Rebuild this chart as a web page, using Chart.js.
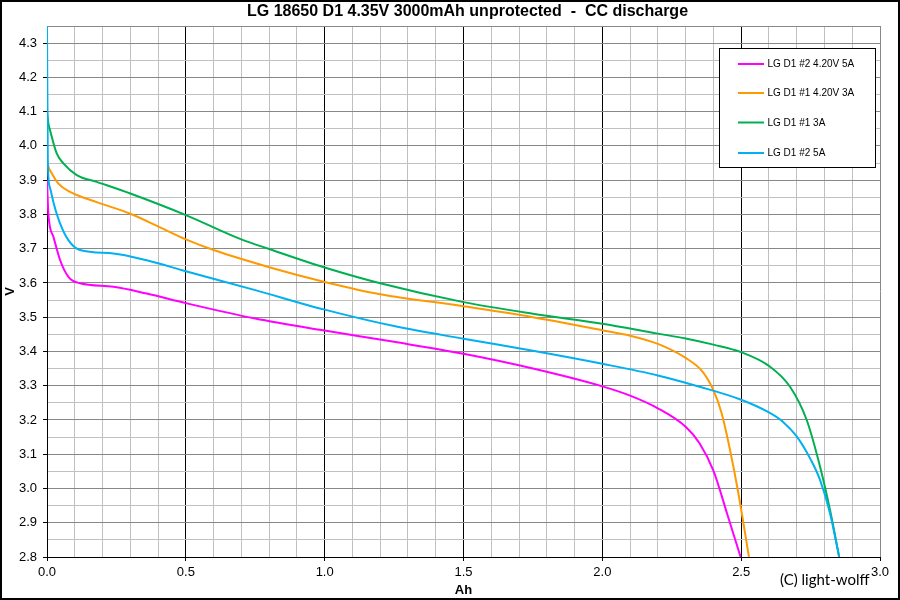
<!DOCTYPE html>
<html>
<head>
<meta charset="utf-8">
<script src="https://cdn.jsdelivr.net/npm/chart.js@4.4.0/dist/chart.umd.min.js"></script>
<style>
  html, body { margin: 0; padding: 0; background: #fff; }
  #wrap { width: 900px; height: 600px; position: relative; }
</style>
</head>
<body>
<div id="wrap"><canvas id="c" width="900" height="600"></canvas></div>
<script>
const chartTitle = "LG 18650 D1 4.35V 3000mAh unprotected  -  CC discharge";
const xAxisTitle = "Ah";
const yAxisTitle = "V";
const creditText = "(C) light-wolff";
const seriesLabels = ["LG D1 #2 4.20V 5A", "LG D1 #1 4.20V 3A", "LG D1 #1 3A", "LG D1 #2 5A"];
const seriesColors = ["#ff00ff", "#ff9900", "#00b050", "#00b0f0"];

const magentaAh = [0, 0.005, 0.023, 0.047, 0.077, 0.119, 0.239, 0.359, 0.5, 0.75, 1.0, 1.25, 1.5, 1.75, 2.0, 2.1, 2.2, 2.3, 2.35, 2.4, 2.45, 2.498];
const magentaV  = [3.90, 3.80, 3.735, 3.667, 3.618, 3.599, 3.589, 3.569, 3.541, 3.496, 3.461, 3.428, 3.393, 3.350, 3.298, 3.271, 3.234, 3.180, 3.132, 3.052, 2.925, 2.80];

const orangeAh = [0, 0.005, 0.017, 0.041, 0.083, 0.179, 0.3, 0.4, 0.5, 0.6, 0.8, 1.0, 1.2, 1.5, 1.75, 2.0, 2.1, 2.2, 2.3, 2.36, 2.40, 2.43, 2.46, 2.49, 2.528];
const orangeV  = [3.96, 3.94, 3.92, 3.89, 3.866, 3.836, 3.802, 3.765, 3.727, 3.696, 3.646, 3.603, 3.567, 3.532, 3.500, 3.462, 3.446, 3.422, 3.381, 3.342, 3.287, 3.219, 3.112, 2.986, 2.80];

const greenAh = [0, 0.005, 0.011, 0.035, 0.059, 0.107, 0.179, 0.3, 0.5, 0.7, 0.8, 1.0, 1.2, 1.5, 1.75, 2.0, 2.2, 2.3, 2.4, 2.5, 2.6, 2.676, 2.736, 2.784, 2.82, 2.853];
const greenV  = [4.10, 4.066, 4.046, 3.978, 3.949, 3.915, 3.895, 3.861, 3.798, 3.727, 3.699, 3.645, 3.599, 3.544, 3.510, 3.481, 3.452, 3.438, 3.420, 3.398, 3.358, 3.297, 3.20, 3.064, 2.937, 2.80];

const blueAh = [0, 0.003, 0.01, 0.025, 0.047, 0.077, 0.119, 0.239, 0.359, 0.5, 0.75, 1.0, 1.25, 1.5, 1.75, 2.0, 2.2, 2.35, 2.5, 2.6, 2.65, 2.7, 2.75, 2.784, 2.82, 2.853];
const blueV  = [4.35, 3.95, 3.88, 3.83, 3.774, 3.725, 3.696, 3.686, 3.666, 3.634, 3.579, 3.522, 3.474, 3.437, 3.402, 3.364, 3.330, 3.297, 3.259, 3.222, 3.195, 3.152, 3.085, 3.025, 2.928, 2.80];

const xMin = 0, xMax = 3.0, xStep = 0.1;
const yMin = 2.8, yMax = 4.35, yStep = 0.05;

const FONT = '"Liberation Sans", Arial, sans-serif';

function pts(xs, ys) { return xs.map((x, i) => ({ x: x, y: ys[i] })); }

const seriesData = [pts(magentaAh, magentaV), pts(orangeAh, orangeV), pts(greenAh, greenV), pts(blueAh, blueV)];

const decorPlugin = {
  id: 'decor',
  afterDraw(chart) {
    const ctx = chart.ctx;
    const a = chart.chartArea;
    ctx.save();
    // title
    ctx.fillStyle = '#000';
    ctx.font = 'bold 16px ' + FONT;
    ctx.textAlign = 'center';
    ctx.textBaseline = 'middle';
    ctx.fillText(chartTitle, (a.left + a.right) / 2 + 4, 12);
    // credit
    ctx.font = '15px Lato, ' + FONT;
    ctx.textAlign = 'left';
    ctx.fillText(creditText, 780, 580);
    // legend box
    const bx = 719.5, by = 48.5, bw = 156, bh = 119;
    ctx.fillStyle = '#fff';
    ctx.fillRect(bx, by, bw, bh);
    ctx.strokeStyle = '#000';
    ctx.lineWidth = 1;
    ctx.strokeRect(bx, by, bw, bh);
    const rows = [64, 93, 122.5, 153];
    ctx.font = '10px ' + FONT;
    chart.data.datasets.forEach((ds, i) => {
      ctx.strokeStyle = ds.borderColor;
      ctx.lineWidth = 2;
      ctx.beginPath();
      ctx.moveTo(738, rows[i]);
      ctx.lineTo(764, rows[i]);
      ctx.stroke();
      ctx.fillStyle = '#000';
      ctx.textBaseline = 'middle';
      ctx.fillText(ds.label, 767.5, rows[i] + 0.5);
    });
    // outer frame
    ctx.strokeStyle = '#000';
    ctx.lineWidth = 2;
    ctx.strokeRect(1, 1, 898, 598);
    ctx.restore();
  }
};

function isMult(v, m) {
  const r = Math.round(v * 1000) / (m * 1000);
  return Math.abs(r - Math.round(r)) < 1e-6;
}

new Chart(document.getElementById('c'), {
  type: 'line',
  data: {
    datasets: seriesData.map((d, i) => ({
      label: seriesLabels[i],
      data: d,
      borderColor: seriesColors[i],
      backgroundColor: seriesColors[i],
      borderWidth: 2,
      pointRadius: 0,
      fill: false,
      cubicInterpolationMode: 'monotone',
      order: 3 - i
    }))
  },
  options: {
    responsive: false,
    animation: false,
    devicePixelRatio: 1,
    layout: { padding: { top: 26, right: 20, left: 0, bottom: 0 } },
    plugins: {
      legend: { display: false },
      title: { display: false },
      tooltip: { enabled: false }
    },
    scales: {
      x: {
        type: 'linear',
        min: xMin, max: xMax,
        afterFit(scale) { scale.height = 43; },
        ticks: {
          stepSize: xStep,
          autoSkip: false,
          maxRotation: 0,
          padding: 4,
          color: '#000',
          font: { family: FONT, size: 13 },
          callback(v) { return isMult(v, 0.5) ? v.toFixed(1) : ''; }
        },
        grid: {
          tickLength: 4,
          lineWidth: 1,
          color(ctx) {
            const v = ctx.tick ? ctx.tick.value : 0;
            if (Math.abs(v - xMax) < 1e-6) return '#888888';
            return isMult(v, 0.5) ? '#000000' : '#c0c0c0';
          },
          tickColor(ctx) {
            const v = ctx.tick ? ctx.tick.value : 0;
            return isMult(v, 0.5) ? '#000000' : 'rgba(0,0,0,0)';
          }
        },
        border: { color: '#000', width: 1 },
        title: {
          display: true,
          text: xAxisTitle,
          color: '#000',
          font: { family: FONT, size: 13, weight: 'bold' },
          padding: { top: 0, bottom: 2 }
        }
      },
      y: {
        type: 'linear',
        min: yMin, max: yMax,
        afterFit(scale) { scale.width = 47; },
        ticks: {
          stepSize: yStep,
          autoSkip: false,
          padding: 6,
          color: '#000',
          font: { family: FONT, size: 13 },
          callback(v) { return isMult(v, 0.1) ? v.toFixed(1) : ''; }
        },
        grid: {
          tickLength: 4,
          lineWidth: 1,
          color(ctx) {
            const v = ctx.tick ? ctx.tick.value : 0;
            if (Math.abs(v - yMax) < 1e-6) return '#888888';
            return isMult(v, 0.1) ? '#888888' : '#c0c0c0';
          },
          tickColor(ctx) {
            const v = ctx.tick ? ctx.tick.value : 0;
            return isMult(v, 0.1) ? '#000000' : 'rgba(0,0,0,0)';
          }
        },
        border: { color: '#000', width: 1 },
        title: {
          display: true,
          text: yAxisTitle,
          color: '#000',
          font: { family: FONT, size: 13, weight: 'bold' },
          padding: { top: 3, bottom: 0 }
        }
      }
    }
  },
  plugins: [decorPlugin]
});
</script>
</body>
</html>
